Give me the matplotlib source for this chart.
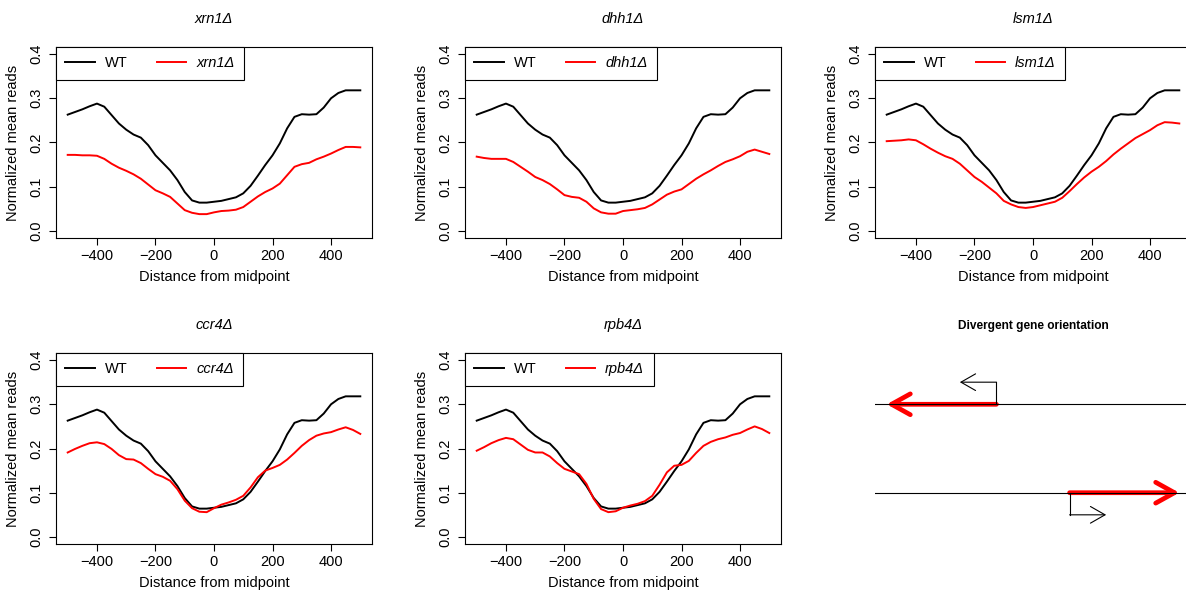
#!/usr/bin/env python

import logging
import matplotlib
matplotlib.use('Agg')
from matplotlib import pyplot as plt
from matplotlib.patches import FancyArrowPatch, ArrowStyle

logger = logging.getLogger('midpoint_profiles')

plt.rcParams['font.family'] = ['Liberation Sans', 'DejaVu Sans']

# Distance from the midpoint (bp), shared by every profile
distance = list(range(-500, 501, 25))

wt = [0.263, 0.269, 0.275, 0.282, 0.288, 0.281, 0.262, 0.243, 0.229, 0.218,
      0.211, 0.194, 0.171, 0.154, 0.137, 0.115, 0.088, 0.069, 0.064, 0.064,
      0.066, 0.068, 0.072, 0.076, 0.085, 0.102, 0.125, 0.149, 0.171, 0.198,
      0.232, 0.258, 0.264, 0.263, 0.264, 0.279, 0.300, 0.312, 0.318, 0.318,
      0.318]

xrn1 = [0.172, 0.172, 0.171, 0.171, 0.170, 0.163, 0.152, 0.143, 0.136, 0.128,
        0.118, 0.105, 0.092, 0.085, 0.077, 0.062, 0.047, 0.041, 0.038, 0.038,
        0.042, 0.045, 0.046, 0.048, 0.054, 0.066, 0.078, 0.088, 0.096, 0.107,
        0.126, 0.145, 0.151, 0.154, 0.162, 0.168, 0.175, 0.183, 0.190, 0.190,
        0.189]

dhh1 = [0.168, 0.165, 0.163, 0.163, 0.163, 0.156, 0.145, 0.134, 0.122, 0.115,
        0.106, 0.094, 0.081, 0.077, 0.075, 0.066, 0.051, 0.042, 0.039, 0.039,
        0.045, 0.047, 0.049, 0.052, 0.060, 0.071, 0.082, 0.089, 0.094, 0.106,
        0.118, 0.128, 0.137, 0.147, 0.156, 0.162, 0.169, 0.179, 0.184, 0.179,
        0.174]

lsm1 = [0.203, 0.204, 0.205, 0.207, 0.205, 0.196, 0.186, 0.177, 0.169, 0.163,
        0.152, 0.137, 0.122, 0.111, 0.098, 0.085, 0.068, 0.060, 0.054, 0.052,
        0.054, 0.058, 0.062, 0.066, 0.075, 0.090, 0.106, 0.121, 0.134, 0.145,
        0.158, 0.173, 0.186, 0.198, 0.210, 0.219, 0.228, 0.239, 0.246, 0.245,
        0.243]

ccr4 = [0.191, 0.199, 0.206, 0.212, 0.214, 0.210, 0.199, 0.185, 0.176, 0.175,
        0.167, 0.154, 0.142, 0.136, 0.127, 0.108, 0.082, 0.065, 0.057, 0.056,
        0.065, 0.073, 0.078, 0.084, 0.093, 0.112, 0.135, 0.150, 0.156, 0.163,
        0.175, 0.190, 0.206, 0.219, 0.229, 0.234, 0.237, 0.243, 0.248, 0.242,
        0.233]

rpb4 = [0.195, 0.203, 0.212, 0.219, 0.224, 0.221, 0.209, 0.197, 0.191, 0.191,
        0.182, 0.167, 0.154, 0.148, 0.142, 0.120, 0.086, 0.063, 0.056, 0.058,
        0.066, 0.071, 0.075, 0.081, 0.093, 0.118, 0.146, 0.161, 0.163, 0.172,
        0.190, 0.206, 0.215, 0.221, 0.225, 0.231, 0.235, 0.243, 0.250, 0.244,
        0.235]

mutant_names = ['xrn1Δ', 'dhh1Δ', 'lsm1Δ', 'ccr4Δ', 'rpb4Δ']
mutant_values = [xrn1, dhh1, lsm1, ccr4, rpb4]

x_ticks = [-400, -200, 0, 200, 400]
y_ticks = [0.0, 0.1, 0.2, 0.3, 0.4]

# Schematic of the divergent gene pair (plot coordinates)
gene_rows = [0.3, 0.1]
gene_starts = [-125, 125]
gene_ends = [-500, 500]
promoter_heights = [0.35, 0.05]
promoter_tips = [-250, 250]

FIG_W, FIG_H = 1186, 592
FS = 10.5


def px_axes(fig, left, top, width, height):
    # axes placed by pixel box; the third column runs off the right edge
    return fig.add_axes([left / FIG_W, 1 - (top + height) / FIG_H,
                         width / FIG_W, height / FIG_H])


def style_axes(ax):
    ax.set_xlim(-540, 540)
    ax.set_ylim(-0.016, 0.416)
    ax.set_xticks(x_ticks)
    ax.set_xticklabels(['\u2212400', '\u2212200', '0', '200', '400'])
    ax.set_yticks(y_ticks)
    ax.set_yticklabels([f'{v:.1f}' for v in y_ticks], rotation=90, va='center')
    ax.tick_params(direction='out', length=5, width=0.8, labelsize=FS)
    ax.tick_params(axis='x', pad=3)
    ax.tick_params(axis='y', pad=4)
    for sp in ax.spines.values():
        sp.set_linewidth(0.8)


def profile_panel(ax, name, values):
    style_axes(ax)
    ax.plot(distance, wt, color='black', lw=1.4, label='WT',
            solid_joinstyle='round')
    ax.plot(distance, values, color='#ff0000', lw=1.4, label=name,
            solid_joinstyle='round')
    leg = ax.legend(loc='upper left', bbox_to_anchor=(0, 1), ncol=2,
                    frameon=True, fancybox=False, edgecolor='black',
                    framealpha=1, borderaxespad=0, handlelength=2.0,
                    handletextpad=0.7, columnspacing=2.0, borderpad=0.65,
                    fontsize=FS)
    leg.get_frame().set_linewidth(0.8)
    leg.get_texts()[1].set_style('italic')
    ax.text(0.5, 1 + 28 / 191, name, transform=ax.transAxes, ha='center',
            va='center', fontsize=FS, style='italic')
    ax.text(0.5, -39 / 191, 'Distance from midpoint', transform=ax.transAxes,
            ha='center', va='center', fontsize=FS)
    ax.text(-43 / 316, 0.5, 'Normalized mean reads', transform=ax.transAxes,
            ha='center', va='center', rotation=90, fontsize=FS)


def diagram_panel(ax):
    ax.set_xlim(-540, 540)
    ax.set_ylim(-0.016, 0.416)
    ax.axis('off')
    ax.text(0.5, 1 + 27 / 191, 'Divergent gene orientation',
            transform=ax.transAxes, ha='center', va='center', fontsize=8.6,
            fontweight='bold')
    for row, start, end, height, tip in zip(gene_rows, gene_starts, gene_ends,
                                            promoter_heights, promoter_tips):
        ax.plot([-540, 540], [row, row], color='black', lw=0.8)
        ax.add_patch(FancyArrowPatch(
            (start, row), (end, row),
            arrowstyle=ArrowStyle('->', head_length=13.5, head_width=7.5),
            mutation_scale=1, lw=3.4, color='#ff0000', shrinkA=0, shrinkB=0,
            capstyle='round', joinstyle='round'))
        ax.plot([start, start], [row, height], color='black', lw=0.8)
        ax.add_patch(FancyArrowPatch(
            (start, height), (tip, height),
            arrowstyle=ArrowStyle('->', head_length=10.5, head_width=6),
            mutation_scale=1, lw=0.8, color='black', shrinkA=0, shrinkB=0))


def main(out_path='out.png'):
    logger.debug('Building figure')
    fig = plt.figure(figsize=(FIG_W / 100, FIG_H / 100), dpi=100)

    col_lefts = [56, 465, 875]
    row_tops = [47, 353]
    width, height = 316, 191

    slots = [(r, c) for r in range(2) for c in range(3)]
    for (r, c), name, values in zip(slots, mutant_names, mutant_values):
        ax = px_axes(fig, col_lefts[c], row_tops[r], width, height)
        profile_panel(ax, name, values)

    ax = px_axes(fig, col_lefts[2], row_tops[1], width, height)
    diagram_panel(ax)

    fig.savefig(out_path, dpi=100)
    plt.close(fig)
    logger.info(f'Saved {out_path}')


if __name__ == '__main__':
    logging.basicConfig(level=logging.INFO)
    main()
